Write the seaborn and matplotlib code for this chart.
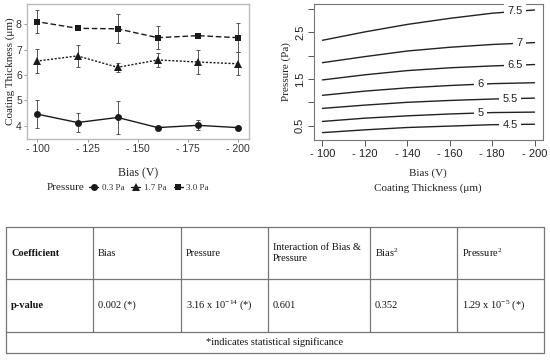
import numpy as np
import pandas as pd
import matplotlib
matplotlib.use("Agg")
import matplotlib.pyplot as plt
from matplotlib.lines import Line2D
import seaborn as sns

sns.set_theme(style="white")
plt.rcParams["font.family"] = ["Liberation Sans", "DejaVu Sans"]
plt.rcParams["mathtext.fontset"] = "custom"
plt.rcParams["mathtext.rm"] = "Liberation Serif"
plt.rcParams["mathtext.it"] = "Liberation Serif:italic"
SERIF = ["Liberation Serif", "DejaVu Serif"]

# ---------------- data ----------------
bias = [-100, -120, -140, -160, -180, -200]
pressure_labels = ["0.3 Pa", "1.7 Pa", "3.0 Pa"]
thick_03 = [4.45, 4.12, 4.32, 3.92, 4.01, 3.92]
err_03 = [0.56, 0.38, 0.64, 0.03, 0.20, 0.03]
thick_17 = [6.55, 6.75, 6.30, 6.59, 6.51, 6.44]
err_17 = [0.46, 0.42, 0.18, 0.26, 0.46, 0.45]
thick_30 = [8.10, 7.84, 7.82, 7.47, 7.55, 7.47]
err_30 = [0.46, 0.04, 0.57, 0.46, 0.04, 0.58]

contour_levels = [4.5, 5, 5.5, 6, 6.5, 7, 7.5]
contour_bias = [-100, -120, -140, -160, -180, -200]
p_45 = [0.35, 0.41, 0.46, 0.49, 0.52, 0.53]
p_50 = [0.59, 0.66, 0.71, 0.75, 0.78, 0.79]
p_55 = [0.87, 0.94, 1.00, 1.04, 1.07, 1.09]
p_60 = [1.15, 1.24, 1.31, 1.36, 1.40, 1.42]
p_65 = [1.48, 1.59, 1.68, 1.74, 1.78, 1.81]
p_70 = [1.85, 1.98, 2.10, 2.18, 2.24, 2.28]
p_75 = [2.33, 2.51, 2.67, 2.80, 2.91, 2.98]
contour_label_bias = [-188.5, -174.5, -188.5, -174.5, -190.8, -193, -190.8]

table_header = ["Coefficient", "Bias", "Pressure", "Interaction of Bias &\nPressure",
                "Bias$^{2}$", "Pressure$^{2}$"]
table_row = ["p-value", "0.002 (*)", "3.16 x 10$^{-14}$ (*)", "0.601", "0.352",
             "1.29 x 10$^{-5}$ (*)"]
table_note = "*indicates statistical significance"

# ---------------- figure ----------------
W, H = 550, 360
fig = plt.figure(figsize=(W / 100, H / 100), dpi=100)
fig.patch.set_facecolor("white")


def px_axes(x0, y0, x1, y1):
    return fig.add_axes([x0 / W, 1 - y1 / H, (x1 - x0) / W, (y1 - y0) / H])


# ---- left: line plot with error bars ----
ax1 = px_axes(27, 4, 249, 139)
df = pd.DataFrame({
    "Bias": bias * 3,
    "Thickness": thick_03 + thick_17 + thick_30,
    "Err": err_03 + err_17 + err_30,
    "Pressure": sum([[p] * len(bias) for p in pressure_labels], []),
})
markers = {"0.3 Pa": "o", "1.7 Pa": "^", "3.0 Pa": "s"}
lstyles = {"0.3 Pa": "-", "1.7 Pa": (0, (1.5, 1.2)), "3.0 Pa": (0, (4, 2))}
msizes = {"0.3 Pa": 5, "1.7 Pa": 5.5, "3.0 Pa": 5}
lc = "#1a1a1a"
for p in pressure_labels:
    sub = df[df["Pressure"] == p]
    ax1.errorbar(sub["Bias"], sub["Thickness"], yerr=sub["Err"], fmt="none",
                 ecolor="#555555", elinewidth=0.7, capsize=1.2, capthick=0.7, zorder=1)
    sns.lineplot(data=sub, x="Bias", y="Thickness", ax=ax1, color=lc,
                 linestyle=lstyles[p], linewidth=1.0, marker=markers[p],
                 markersize=msizes[p], markeredgewidth=0, legend=False, zorder=3)
ax1.set_xlim(-94.8, -205.5)
ax1.set_ylim(3.47, 8.8)
ax1.set_xticks([-100, -125, -150, -175, -200])
ax1.set_xticklabels(["- 100", "- 125", "- 150", "- 175", "- 200"])
ax1.set_yticks([4, 5, 6, 7, 8])
ax1.tick_params(axis="both", which="both", length=2.5, width=0.6, color="#888888",
                labelsize=7.5, labelcolor="#333333", pad=1.2, direction="out",
                bottom=True, left=True)
for s in ax1.spines.values():
    s.set_color("#bbbbbb")
    s.set_linewidth(1.0)
ax1.set_xlabel("")
ax1.set_ylabel("Coating Thickness (\u03bcm)", fontfamily=SERIF, fontsize=8,
               color="#222222")
ax1.yaxis.set_label_coords((10.5 - 27) / 222, 0.5)
ax1.yaxis.label.set_va("center")
fig.text(138 / W, 1 - 173 / H, "Bias (V)", fontfamily=SERIF, fontsize=8.5,
         ha="center", va="center", color="#222222")
fig.text(47 / W, 1 - 188 / H, "Pressure", fontfamily=SERIF, fontsize=8,
         ha="left", va="center", color="#222222")
handles = [Line2D([0], [0], color=lc, linestyle="-", linewidth=1.0,
                  marker=markers[p], markersize=msizes[p], markeredgewidth=0)
           for p in pressure_labels]
fig.legend(handles, pressure_labels, loc="center left",
           bbox_to_anchor=(89 / W, 1 - 188 / H), ncol=3, frameon=False,
           prop={"family": SERIF, "size": 6.5}, handlelength=1.0,
           handletextpad=0.4, columnspacing=0.8, borderpad=0, borderaxespad=0,
           labelcolor="#333333")

# ---- right: contour lines ----
ax2 = px_axes(314, 4, 543, 140)
cols = [p_45, p_50, p_55, p_60, p_65, p_70, p_75]
cdf = pd.DataFrame({
    "Bias": contour_bias * len(contour_levels),
    "Pressure": sum(cols, []),
    "Level": sum([[lv] * len(contour_bias) for lv in contour_levels], []),
})
sns.lineplot(data=cdf, x="Bias", y="Pressure", units="Level", estimator=None,
             ax=ax2, color="#222222", linewidth=1.0, legend=False, sort=False)
for lv, col, lb in zip(contour_levels, cols, contour_label_bias):
    yy = np.interp(-lb, [-b for b in contour_bias], col)
    ax2.text(lb, yy, f"{lv:g}", ha="center", va="center", fontsize=8,
             color="#222222",
             bbox=dict(boxstyle="square,pad=0.3", fc="white", ec="none"), zorder=5)
ax2.set_xlim(-96, -204)
ax2.set_ylim(0.192, 3.108)
ax2.set_xticks([-100, -120, -140, -160, -180, -200])
ax2.set_xticklabels(["- 100", "- 120", "- 140", "- 160", "- 180", "- 200"])
ax2.set_yticks([0.5, 1.0, 1.5, 2.0, 2.5, 3.0])
ax2.set_yticklabels(["0.5", "", "1.5", "", "2.5", ""], rotation=90, va="center")
ax2.tick_params(axis="both", length=4, width=0.7, color="#555555", labelsize=8,
                labelcolor="#222222", pad=2.5, direction="out", bottom=True, left=True)
for s in ax2.spines.values():
    s.set_color("#777777")
    s.set_linewidth(0.8)
ax2.set_xlabel("")
ax2.set_ylabel("Pressure (Pa)", fontfamily=SERIF, fontsize=8, color="#222222",
               labelpad=3)
fig.text(428 / W, 1 - 173 / H, "Bias (V)", fontfamily=SERIF, fontsize=8,
         ha="center", va="center", color="#222222")
fig.text(428 / W, 1 - 188 / H, "Coating Thickness (\u03bcm)", fontfamily=SERIF,
         fontsize=8, ha="center", va="center", color="#222222")

# ---- table ----
axt = fig.add_axes([0, 0, 1, 1])
axt.set_xlim(0, W)
axt.set_ylim(H, 0)
axt.axis("off")
col_x = [6, 93, 181, 268, 370, 457, 544]
row_y = [227, 279, 332, 353]
tc = "#777777"
for y in row_y:
    axt.plot([col_x[0], col_x[-1]], [y, y], color=tc, lw=0.9)
for x in col_x:
    axt.plot([x, x], [row_y[0], row_y[2] if x not in (col_x[0], col_x[-1]) else row_y[3]],
             color=tc, lw=0.9)
for i, (h, v) in enumerate(zip(table_header, table_row)):
    x = col_x[i] + 5
    w = "bold" if i == 0 else "normal"
    axt.text(x, (row_y[0] + row_y[1]) / 2, h, fontfamily=SERIF, fontsize=7.5,
             fontweight=w, ha="left", va="center", color="#111111", linespacing=1.3)
    axt.text(x, (row_y[1] + row_y[2]) / 2, v, fontfamily=SERIF, fontsize=7.5,
             fontweight=w, ha="left", va="center", color="#111111")
axt.text((col_x[0] + col_x[-1]) / 2, (row_y[2] + row_y[3]) / 2, table_note,
         fontfamily=SERIF, fontsize=7.5, ha="center", va="center", color="#111111")

fig.savefig("out.png", dpi=100, facecolor="white")
